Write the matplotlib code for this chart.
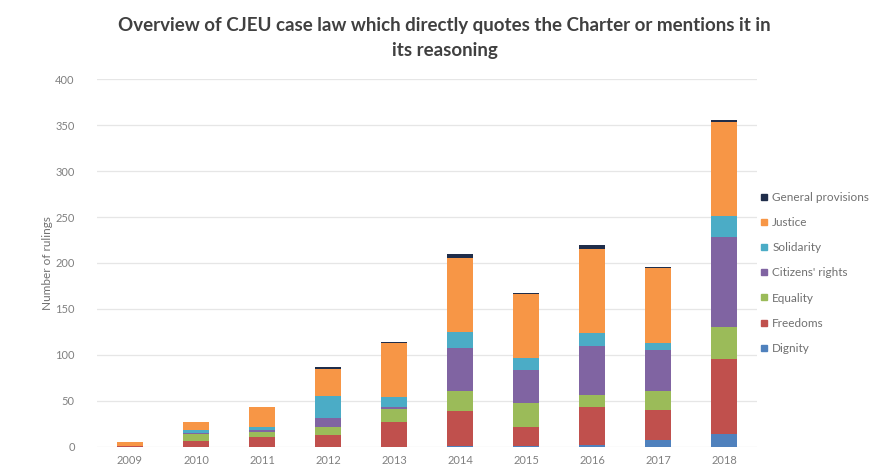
import matplotlib
matplotlib.use("Agg")
import matplotlib.pyplot as plt
from matplotlib.lines import Line2D
import numpy as np

plt.rcParams['font.family'] = ['Lato', 'DejaVu Sans']

years = ["2009", "2010", "2011", "2012", "2013", "2014", "2015", "2016", "2017", "2018"]
dignity = [0, 0, 0, 0, 0, 1, 1, 2, 8, 14]
freedoms = [1, 6, 11, 13, 27, 38, 21, 41, 32, 82]
equality = [0, 8, 5, 9, 14, 22, 26, 14, 21, 34]
citizens = [0, 1, 3, 9, 3, 47, 36, 53, 44, 98]
solidarity = [0, 3, 3, 24, 10, 17, 13, 14, 8, 23]
justice = [4, 9, 22, 30, 59, 80, 69, 91, 82, 102]
general = [0, 0, 0, 2, 1, 5, 1, 5, 1, 2]

series = [
    ("Dignity", dignity, "#4f81bd"),
    ("Freedoms", freedoms, "#c0504d"),
    ("Equality", equality, "#9bbb59"),
    ("Citizens' rights", citizens, "#8064a2"),
    ("Solidarity", solidarity, "#4bacc6"),
    ("Justice", justice, "#f79646"),
    ("General provisions", general, "#1f2d4a"),
]

fig = plt.figure(figsize=(8.7, 4.72), dpi=100)
ax = fig.add_axes([0.1115, 0.053, 0.7586, 0.7796])

x = np.arange(len(years))
bottom = np.zeros(len(years))
for name, vals, col in series:
    v = np.array(vals, dtype=float)
    ax.bar(x, v, 0.4, bottom=bottom, color=col, label=name, zorder=3)
    bottom += v

ax.set_xlim(-0.5, len(years) - 0.5)
ax.set_ylim(0, 400)
ax.set_yticks(range(0, 401, 50))
ax.set_xticks(x)
ax.set_xticklabels(years)
ax.yaxis.grid(True, color="#e6e6e6", linewidth=0.9, zorder=0)
for s in ax.spines.values():
    s.set_visible(False)
ax.tick_params(axis='both', length=0, colors="#808080", labelsize=8)
ax.tick_params(axis='y', pad=16)
ax.tick_params(axis='x', pad=6)
ax.set_ylabel("Number of rulings", fontsize=8.5, color="#707070", labelpad=2)

handles = [Line2D([0], [0], marker='s', linestyle='none', markersize=4.5,
                  markerfacecolor=col, markeredgecolor=col)
           for name, vals, col in series[::-1]]
labels = [name for name, vals, col in series[::-1]]
leg = ax.legend(handles, labels, loc='center left', bbox_to_anchor=(0.997, 0.473),
                frameon=False, fontsize=8.5, labelspacing=1.2, handlelength=0.7,
                handletextpad=0.35, borderaxespad=0)
for t in leg.get_texts():
    t.set_color("#707070")

fig.text(0.511, 0.947, "Overview of CJEU case law which directly quotes the Charter or mentions it in",
         ha='center', va='center', fontsize=13.5, fontweight='bold', color="#404040")
fig.text(0.511, 0.893, "its reasoning",
         ha='center', va='center', fontsize=13.5, fontweight='bold', color="#404040")

fig.savefig("out.png", dpi=100)
